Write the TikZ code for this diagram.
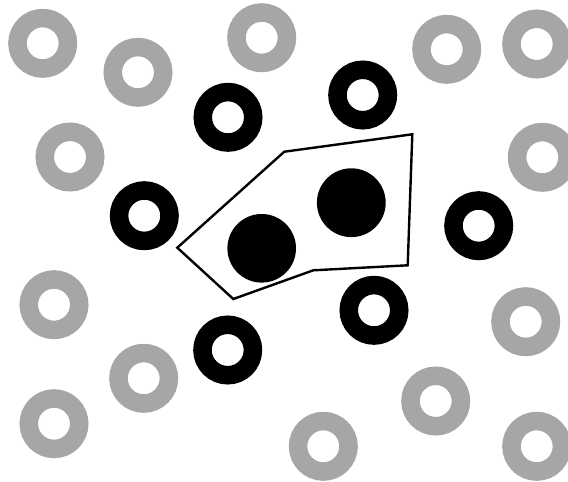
\documentclass[tikz,border=0pt]{standalone}
\usepackage{xcolor}
\usepackage{tikz}
\usetikzlibrary{calc}
\definecolor{ringgray}{HTML}{A6A6A6}
\definecolor{ringink}{HTML}{000000}
\tikzset{
  farring/.style ={draw=ringgray,line width=18.5pt},
  nearring/.style={draw=ringink,line width=18.5pt},
  core/.style    ={fill=ringink},
  hull/.style    ={draw=ringink,line width=2.4pt,line join=miter},
}
\begin{document}
\begin{tikzpicture}[x=1pt,y=-1pt]
  \useasboundingbox (0,0) rectangle (568,482);
  % outer gray rings
  \foreach \px/\py in {42.7/43.3, 138/72.3, 261.7/37.7, 446.7/49.3, 536.7/44,
                       70/157, 542.3/157.3, 54/304.7, 525.7/321.7, 143.7/378.3,
                       435.7/401, 54/423.7, 323.3/446.3, 536.7/446.3}
    \draw[farring] (\px,\py) circle (25.25);
  % inner black rings
  \foreach \px/\py in {228/117.3, 362.7/95, 144.3/215.7, 478.7/225.7,
                       374/310.3, 227.7/350}
    \draw[nearring] (\px,\py) circle (25.25);
  % hull round the two cores
  \coordinate (h1) at (177.3,247.7);
  \coordinate (h2) at (284.3,151.7);
  \coordinate (h3) at (412.3,134.3);
  \coordinate (h4) at (407.7,265.3);
  \coordinate (h5) at (313.3,270.3);
  \coordinate (h6) at (233.3,299);
  \draw[hull] (h1) -- (h2) -- (h3) -- (h4) -- (h5) -- (h6) -- cycle;
  \fill[core] (261.7,248.3) circle (34.3);
  \fill[core] (351.3,202.7) circle (34.4);
\end{tikzpicture}
\end{document}
